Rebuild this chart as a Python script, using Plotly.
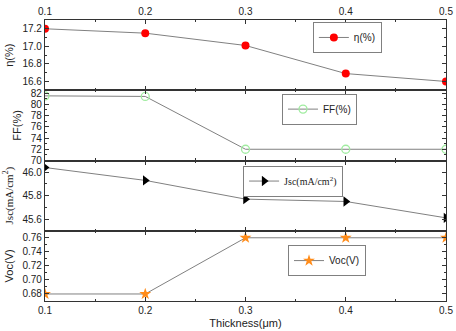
import plotly.graph_objects as go
from plotly.subplots import make_subplots

thickness = [0.1, 0.2, 0.3, 0.4, 0.5]
eta = [17.20, 17.15, 17.01, 16.69, 16.60]
ff = [81.5, 81.4, 72.0, 72.0, 72.0]
jsc = [46.04, 45.93, 45.77, 45.75, 45.61]
voc = [0.68, 0.68, 0.76, 0.76, 0.76]

x_ticks = [0.1, 0.2, 0.3, 0.4, 0.5]

LINE = "#808080"
SANS = "Liberation Sans, Arial, sans-serif"
SERIF = "Liberation Serif, Times New Roman, serif"

fig = make_subplots(rows=4, cols=1, shared_xaxes=True, vertical_spacing=0)

fig.add_trace(go.Scatter(x=thickness, y=eta, mode="lines+markers", name="η(%)",
                         line=dict(color=LINE, width=1),
                         marker=dict(symbol="circle", size=8, color="#ff0000"),
                         legend="legend"), row=1, col=1)
fig.add_trace(go.Scatter(x=thickness, y=ff, mode="lines+markers", name="FF(%)",
                         line=dict(color=LINE, width=1),
                         marker=dict(symbol="circle-open", size=8, color="#a0eca0",
                                     line=dict(width=1.3)),
                         legend="legend2"), row=2, col=1)
fig.add_trace(go.Scatter(x=thickness, y=jsc, mode="lines+markers", name="Jsc(mA/cm<sup>2</sup>)",
                         line=dict(color=LINE, width=1),
                         marker=dict(symbol="triangle-right", size=9, color="#000000"),
                         legend="legend3"), row=3, col=1)
fig.add_trace(go.Scatter(x=thickness, y=voc, mode="lines+markers", name="Voc(V)",
                         line=dict(color=LINE, width=1),
                         marker=dict(symbol="star", size=9, color="#ff8c1a"),
                         legend="legend4"), row=4, col=1)

common_x = dict(range=[0.1, 0.5], tickvals=x_ticks, tickformat=".1f",
                ticks="inside", ticklen=4, tickcolor="#333", showline=True,
                linecolor="#333", linewidth=1.2, mirror="ticks", showgrid=False,
                zeroline=False, automargin=False,
                minor=dict(ticks="inside", ticklen=2, dtick=0.05,
                           tick0=0.1, tickcolor="#333"),
                tickfont=dict(size=10, family=SANS, color="#222"))
for r in range(1, 5):
    fig.update_xaxes(**common_x, row=r, col=1)
fig.update_xaxes(showticklabels=True, side="top", row=1, col=1)
fig.update_xaxes(title=dict(text="Thickness(μm)", font=dict(size=11, family=SANS, color="#222"),
                            standoff=4), row=4, col=1)

common_y = dict(ticks="inside", ticklen=4, tickcolor="#333", showline=True,
                linecolor="#333", linewidth=1.2, mirror="ticks", showgrid=False,
                zeroline=False, automargin=False,
                tickfont=dict(size=10, family=SANS, color="#222"))

fig.update_yaxes(**common_y, range=[16.5, 17.3], tick0=16.6, dtick=0.2, tickformat=".1f",
                 minor=dict(ticks="inside", ticklen=2, dtick=0.1, tickcolor="#333"),
                 title=dict(text="η(%)", font=dict(size=11, family=SANS, color="#222"), standoff=6),
                 row=1, col=1)
fig.update_yaxes(**common_y, range=[70, 82.5], tick0=70, dtick=2, tickformat="d",
                 minor=dict(ticks="inside", ticklen=2, dtick=1, tickcolor="#333"),
                 title=dict(text="FF(%)", font=dict(size=11, family=SANS, color="#222"), standoff=6),
                 row=2, col=1)
fig.update_yaxes(**common_y, range=[45.5, 46.1], tick0=45.6, dtick=0.2, tickformat=".1f",
                 minor=dict(ticks="inside", ticklen=2, dtick=0.1, tickcolor="#333"),
                 title=dict(text="Jsc(mA/cm<sup>2</sup>)", font=dict(size=11, family=SERIF, color="#222"),
                            standoff=6),
                 row=3, col=1)
fig.update_yaxes(**common_y, range=[0.67, 0.77], tick0=0.68, dtick=0.02, tickformat=".2f",
                 minor=dict(ticks="inside", ticklen=2, dtick=0.01, tickcolor="#333"),
                 title=dict(text="Voc(V)", font=dict(size=11, family=SANS, color="#222"), standoff=6),
                 row=4, col=1)

leg = dict(bgcolor="white", bordercolor="#808080", borderwidth=1,
           xanchor="left", yanchor="top", itemwidth=30,
           font=dict(size=10, family=SANS, color="#222"))

fig.update_layout(
    width=456, height=331,
    margin=dict(l=45, r=10, t=20, b=30),
    paper_bgcolor="white", plot_bgcolor="white",
    showlegend=True,
    legend=dict(**leg, x=0.668, y=0.993),
    legend2=dict(**leg, x=0.591, y=0.738),
    legend3=dict(**{**leg, "font": dict(size=10, family=SERIF, color="#222")}, x=0.494, y=0.482),
    legend4=dict(**leg, x=0.606, y=0.199),
)

fig.write_html("out.html", config={"displayModeBar": False},
               post_script="document.body.style.margin='0px';")
